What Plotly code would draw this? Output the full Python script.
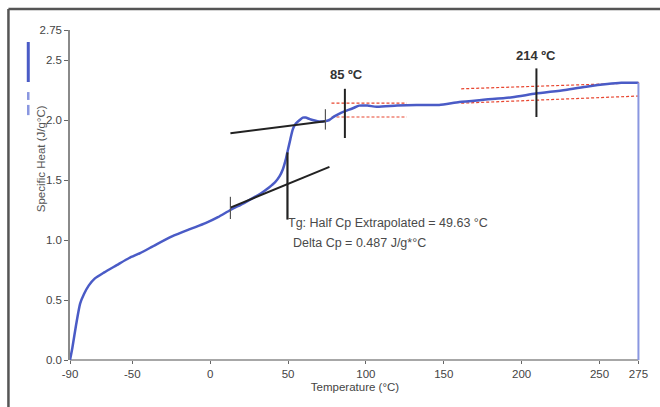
import plotly.graph_objects as go

# Specific heat curve
temp = [-90, -88.5, -86, -83.5, -81, -78, -74, -68, -60, -52, -45, -35, -24.5, -13, -3, 5, 13, 22,
        32.7, 38, 41.6, 44.5, 46.7, 48.5, 49.9, 51.5, 53, 55, 57.5, 59.5, 61.3, 63.5, 65.8, 69,
        73.4, 76.5, 79.7, 84, 88, 92, 95.6, 101, 107, 120, 132.5, 147, 160, 177, 194, 209, 228,
        242.5, 255, 264, 270, 275]
cp = [0.0, 0.1, 0.3, 0.47, 0.55, 0.62, 0.68, 0.73, 0.79, 0.85, 0.89, 0.96, 1.03, 1.09, 1.14, 1.19, 1.25, 1.31,
      1.39, 1.44, 1.48, 1.53, 1.59, 1.67, 1.75, 1.84, 1.92, 1.97, 2.0, 2.02, 2.02, 2.01, 2.0, 1.99,
      1.99, 2.0, 2.03, 2.06, 2.08, 2.1, 2.12, 2.12, 2.11, 2.12, 2.125, 2.125, 2.15, 2.17, 2.19, 2.22, 2.25,
      2.28, 2.3, 2.31, 2.31, 2.31]
drop_t = [275, 275]
drop_cp = [2.31, 0.0]

# Construction lines
upper_tan_t = [13, 74]
upper_tan_cp = [1.89, 1.99]
upper_tick_t = [74, 74]
upper_tick_cp = [2.09, 1.92]
lower_tan_t = [13, 76.6]
lower_tan_cp = [1.27, 1.61]
lower_tick_t = [13, 13]
lower_tick_cp = [1.36, 1.175]
tg_t = [49.63, 49.63]
tg_cp = [1.73, 1.17]
t85_t = [86.5, 86.5]
t85_cp = [2.26, 1.85]
t214_t = [209.5, 209.5]
t214_cp = [2.43, 2.025]
red1_t = [77.9, 126.2]; red1_cp = [2.14, 2.14]
red2_t = [77.9, 126.2]; red2_cp = [2.025, 2.025]
red3_t = [161.2, 275.6]; red3_cp = [2.26, 2.31]
red4_t = [161.2, 275.6]; red4_cp = [2.14, 2.2]

x_ticks = [-90, -50, 0, 50, 100, 150, 200, 250, 275]
y_ticks = [0.0, 0.5, 1.0, 1.5, 2.0, 2.5, 2.75]
y_tick_text = ["0.0", "0.5", "1.0", "1.5", "2.0", "2.5", "2.75"]

fig = go.Figure()

BLK = "#222222"
RED = "#e8452f"

def seg(xs, ys, color, width, dash=None):
    fig.add_trace(go.Scatter(x=xs, y=ys, mode="lines", showlegend=False, hoverinfo="skip",
                             line=dict(color=color, width=width, dash=dash)))

for xs, ys in [(red1_t, red1_cp), (red2_t, red2_cp), (red3_t, red3_cp), (red4_t, red4_cp)]:
    seg(xs, ys, RED, 1.2, "3px,2px")

fig.add_trace(go.Scatter(x=temp, y=cp, mode="lines", showlegend=False,
                         line=dict(color="#4a5bc6", width=2.5, shape="spline", smoothing=0.6)))
seg(drop_t, drop_cp, "#8a97e0", 2)

seg(upper_tan_t, upper_tan_cp, BLK, 2)
seg(lower_tan_t, lower_tan_cp, BLK, 2)
seg(upper_tick_t, upper_tick_cp, "#555555", 1.2)
seg(lower_tick_t, lower_tick_cp, "#555555", 1.2)
seg(tg_t, tg_cp, BLK, 2.2)
seg(t85_t, t85_cp, BLK, 2)
seg(t214_t, t214_cp, BLK, 2)

TXT = "#333333"
fig.add_annotation(x=87.4, y=2.38, text="<b>85 ºC</b>", showarrow=False,
                   font=dict(size=13, color=TXT, family="Liberation Sans, Arial"))
fig.add_annotation(x=209.5, y=2.54, text="<b>214 ºC</b>", showarrow=False,
                   font=dict(size=13, color=TXT, family="Liberation Sans, Arial"))
fig.add_annotation(x=48.6, y=1.14, text="Tg: Half Cp Extrapolated = 49.63 °C", showarrow=False,
                   xanchor="left", font=dict(size=12.5, color="#4a4a4a", family="Liberation Sans, Arial"))
fig.add_annotation(x=51.8, y=0.975, text="Delta Cp = 0.487 J/g*°C", showarrow=False,
                   xanchor="left", font=dict(size=12.5, color="#4a4a4a", family="Liberation Sans, Arial"))

# y-axis title
fig.add_annotation(xref="paper", yref="paper", x=-0.0645, y=0.609, text="Specific Heat (J/g°C)",
                   textangle=-90, showarrow=False,
                   font=dict(size=11.5, color="#555555", family="Liberation Sans, Arial"))

# outer frame (left and top)
fig.add_shape(type="line", xref="paper", yref="paper", x0=-0.108, x1=-0.108, y0=-0.2, y1=1.0636,
              line=dict(color="#555555", width=2.5))
fig.add_shape(type="line", xref="paper", yref="paper", x0=-0.108, x1=1.1, y0=1.0636, y1=1.0636,
              line=dict(color="#555555", width=2.5))
# legend remnant
fig.add_shape(type="line", xref="paper", yref="paper", x0=-0.0732, x1=-0.0732, y0=0.8424, y1=0.9636,
              line=dict(color="#4a5bc6", width=3))
fig.add_shape(type="line", xref="paper", yref="paper", x0=-0.0732, x1=-0.0732, y0=0.788, y1=0.812,
              line=dict(color="#8a97e0", width=2.5))
fig.add_shape(type="line", xref="paper", yref="paper", x0=-0.0732, x1=-0.0732, y0=0.742, y1=0.773,
              line=dict(color="#8a97e0", width=2.5))

fig.update_layout(
    width=660, height=407,
    margin=dict(l=70, r=14, t=30, b=47),
    paper_bgcolor="white", plot_bgcolor="white",
    font=dict(family="Liberation Sans, Arial", color="#444444", size=12),
    xaxis=dict(range=[-90, 276], tickvals=x_ticks, ticktext=[str(v) for v in x_ticks],
               showgrid=False, zeroline=False, showline=False,
               ticks="outside", ticklen=3, tickcolor="#666666",
               tickfont=dict(size=11.5, color="#444444"),
               title=dict(text="Temperature (°C)", font=dict(size=11.5, color="#444444"), standoff=4)),
    yaxis=dict(range=[0, 2.75], tickvals=y_ticks, ticktext=y_tick_text,
               showgrid=False, zeroline=False, showline=True, linecolor="#8a8a8a", linewidth=1.5,
               ticks="outside", ticklen=4, tickcolor="#666666",
               tickfont=dict(size=11.5, color="#444444")),
)
# x axis line ending at 275 (as in the reference)
fig.add_shape(type="line", xref="x", yref="paper", x0=-90, x1=275, y0=0, y1=0,
              line=dict(color="#8a8a8a", width=1.5), layer="below")

fig.write_html("out.html")
